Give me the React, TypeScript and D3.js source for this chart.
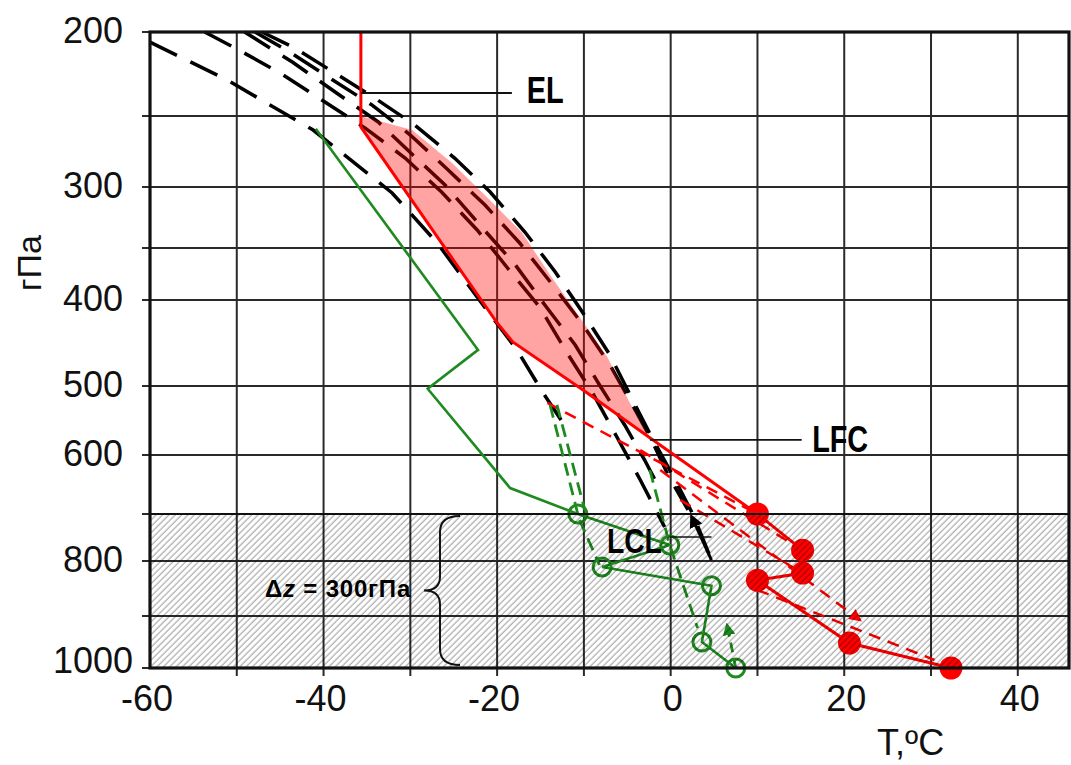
import React from 'react';
import * as d3 from 'd3';

const W = 1071;
const H = 765;

// ---- axes ----
const T_DOMAIN = [-60, 45.9];
const T_GRID = [-50, -40, -30, -20, -10, 0, 10, 20, 30, 40];
const T_TICKS = [-60, -40, -20, 0, 20, 40];
const P_LEVELS = [200, 250, 300, 350, 400, 500, 600, 700, 800, 900, 1000];
const P_GRID = [250, 300, 350, 400, 500, 600, 700, 800, 900];
const P_TICKS = [200, 300, 400, 500, 600, 800, 1000];

// ---- environment temperature (red) ----
const envT = [-35.7, -35.7, -20.0, -18.2, -10.1, -2.4, 10.0, 15.2, 15.2, 10.0, 20.6, 32.3];
const envP = [200, 257.7, 426.7, 448.8, 505.8, 575, 700, 777, 822, 835, 952, 1000];

// ---- dew point (green) ----
const dewT = [-40.9, -22.2, -28.0, -18.5, -10.7, -0.1, -7.9, 4.7, 3.6, 7.5];
const dewP = [259, 458, 504, 656, 700, 766, 811, 845, 950, 1000];

// ---- parcel curve bounding the positive area ----
const parcelT = [-35.7, -29.8, -25.2, -21.2, -17.1, -13.9, -10.5, -7.3, -4.7, -2.4];
const parcelP = [250, 259.9, 283.1, 308.2, 337.7, 376, 419.8, 466.3, 524.6, 575.4];

// ---- adiabats (black dashed) ----
const adiabat1T = [-60, -51.1, -41.2, -32.1, -26.9, -21.2, -17.7, -14.7, -12.4];
const adiabat1P = [206, 228.6, 259.9, 304.9, 345.9, 411.6, 458.1, 510.1, 553.6];
const adiabat2T = [-53.7, -50.2, -45.0, -40.2, -35.2, -30.6, -26.4, -22.3, -18.8, -15.1, -12.0, -9.0, -6.2, -3.5, -0.7];
const adiabat2P = [200, 209.5, 224.4, 240.5, 258.5, 279.6, 304.1, 335.2, 369.2, 408.1, 460.5, 510.1, 573.9, 642.4, 727.7];
const adiabat3T = [-49.1, -43.6, -38.5, -33.7, -29.7, -26.0, -22.0, -17.9, -14.5, -11.0, -8.2, -5.3, -3.0, -1.2];
const adiabat3P = [200, 217.9, 236.3, 254.2, 277.5, 298.6, 331.1, 366.3, 405.8, 452.3, 498.8, 556.5, 608.5, 659.3];
const adiabat4T = [-47.9, -43.9, -39.3, -34.4, -30.0, -25.7, -21.4, -17.4, -13.6, -10.1, -7.0, -4.4, -2.2, -0.3, 2.0];
const adiabat4P = [200, 211.9, 227.4, 243.5, 263.4, 287.7, 314.8, 345.9, 385.6, 429.1, 475.6, 527.5, 578.3, 633.9, 693.2];
const adiabat5T = [-47.1, -43.3, -38.9, -34.1, -29.5, -24.9, -20.8, -16.8, -13.3, -10.1, -7.0, -4.5, -2.2, 0.3, 2.6, 4.7];
const adiabat5P = [200, 209.5, 223.8, 239.3, 256.3, 279.6, 304.1, 336.9, 373.1, 415.1, 464, 517.4, 573.9, 636.4, 702.1, 797.9];

// ---- red dashed paths ----
const redGuide1: [number, number][] = [[-14.2, 524.6], [10, 700]];
const redGuide2: [number, number][] = [[-3.5, 592.8], [15.2, 777]];
const redGuide3: [number, number][] = [[-1.2, 625.4], [21.8, 907.7]];
const redGuide4: [number, number][] = [[1.1, 676.3], [15.2, 822]];
const redGuide5: [number, number][] = [[10.0, 852.7], [30.4, 984.6]];

// ---- green dashed paths ----
const greenGuide1: [number, number][] = [[-13.9, 527.5], [-10.7, 700]];
const greenGuide2: [number, number][] = [[-13.1, 527.5], [-9.9, 693]];
const greenGuide3: [number, number][] = [[-2.4, 625.4], [-0.1, 766], [3.1, 923]];
const greenGuide4: [number, number][] = [[-10.5, 712.8], [-8.2, 807.3]];
const greenArrow: [number, number][] = [[7.5, 1000], [6.5, 917.3]];

// ---- black solid arrow ----
const blackArrow: [number, number][] = [[4.7, 797.9], [2.4, 705]];

// ---- annotation levels ----
const EL_P = 236.3;
const LFC_P = 578;
const LCL_P = 749;
const LAYER_TOP = 700;
const LAYER_BOTTOM = 1000;

const FONT = 'Liberation Sans, Arial, sans-serif';

export default function App() {
  const x = d3.scaleLinear().domain(T_DOMAIN).range([150, 1069]);
  const y = d3
    .scaleLinear()
    .domain(P_LEVELS)
    .range([32, 116, 187, 248, 300, 386, 455, 514, 561, 616, 668]);

  const line = d3
    .line<[number, number]>()
    .x((d) => x(d[0]))
    .y((d) => y(d[1]));

  const zip = (a: number[], b: number[]) => a.map((v, i) => [v, b[i]] as [number, number]);

  const env = zip(envT, envP);
  const dew = zip(dewT, dewP);
  const parcel = zip(parcelT, parcelP);
  const adiabats = [
    zip(adiabat1T, adiabat1P),
    zip(adiabat2T, adiabat2P),
    zip(adiabat3T, adiabat3P),
    zip(adiabat4T, adiabat4P),
    zip(adiabat5T, adiabat5P),
  ];
  const capeEnv = env.filter((d) => d[1] >= 250 && d[1] <= 576).reverse();
  const capePoly = [...parcel, ...capeEnv];

  const left = x(T_DOMAIN[0]);
  const right = x(T_DOMAIN[1]);
  const top = y(200);
  const bottom = y(1000);

  const layerTop = y(LAYER_TOP);
  const layerBottom = y(LAYER_BOTTOM);
  const braceTop = layerTop + 2;
  const braceBot = layerBottom - 3;
  const braceMid = (braceTop + braceBot) / 2;
  const bx = 440;
  const bracePath = `M${bx + 20},${braceTop} Q${bx},${braceTop} ${bx},${braceTop + 16} L${bx},${braceMid - 14} Q${bx},${braceMid} ${bx - 16},${braceMid} Q${bx},${braceMid} ${bx},${braceMid + 14} L${bx},${braceBot - 16} Q${bx},${braceBot} ${bx + 20},${braceBot}`;

  const red = '#ff0000';
  const green = '#1f8a1f';

  return (
    <svg
      width={W}
      height={H}
      style={{ position: 'absolute', left: 0, top: 0, background: '#fff' }}
      fontFamily={FONT}
    >
      <defs>
        <pattern
          id="hatch"
          width={4.5}
          height={4.5}
          patternUnits="userSpaceOnUse"
          patternTransform="rotate(45)"
        >
          <line x1={2} y1={0} x2={2} y2={4.5} stroke="#000" strokeOpacity={0.4} strokeWidth={1} />
        </pattern>
        <marker id="arrRed" viewBox="0 0 10 10" refX={8} refY={5} markerWidth={5} markerHeight={5} orient="auto">
          <path d="M0,0 L10,5 L0,10 z" fill={red} />
        </marker>
        <marker id="arrGreen" viewBox="0 0 10 10" refX={8} refY={5} markerWidth={4.5} markerHeight={4.5} orient="auto">
          <path d="M0,0 L10,5 L0,10 z" fill={green} />
        </marker>
        <marker id="arrBlack" viewBox="0 0 10 10" refX={8} refY={5} markerWidth={4.5} markerHeight={4.5} orient="auto">
          <path d="M0,0 L10,5 L0,10 z" fill="#000" />
        </marker>
      </defs>

      <rect x={0} y={0} width={W} height={H} fill="#fff" />

      {/* grid */}
      {T_GRID.map((t) => (
        <line key={'vg' + t} x1={x(t)} x2={x(t)} y1={top} y2={bottom + 8} stroke="#2a2a2a" strokeWidth={2} />
      ))}
      {P_GRID.map((p) => (
        <line key={'hg' + p} x1={left - 8} x2={right} y1={y(p)} y2={y(p)} stroke="#2a2a2a" strokeWidth={2} />
      ))}
      <line x1={left - 8} x2={left} y1={top} y2={top} stroke="#2a2a2a" strokeWidth={2} />
      <line x1={left - 8} x2={left} y1={bottom} y2={bottom} stroke="#2a2a2a" strokeWidth={2} />

      {/* adiabats */}
      {adiabats.map((a, i) => (
        <path
          key={'ad' + i}
          d={line(a) || ''}
          fill="none"
          stroke="#000"
          strokeWidth={3.5}
          strokeDasharray="30 15"
        />
      ))}

      {/* positive area */}
      <path d={(line(capePoly) || '') + 'Z'} fill="rgba(255,0,0,0.36)" stroke="none" />

      {/* guide dashed lines */}
      {[redGuide1, redGuide2, redGuide4, redGuide5].map((g, i) => (
        <path key={'rg' + i} d={line(g) || ''} fill="none" stroke={red} strokeWidth={2.5} strokeDasharray="12 8" />
      ))}
      <path d={line(redGuide3) || ''} fill="none" stroke={red} strokeWidth={2.5} strokeDasharray="12 8" markerEnd="url(#arrRed)" />
      {[greenGuide1, greenGuide2, greenGuide3, greenGuide4].map((g, i) => (
        <path key={'gg' + i} d={line(g) || ''} fill="none" stroke={green} strokeWidth={2.8} strokeDasharray="13 7" />
      ))}
      <path d={line(greenArrow) || ''} fill="none" stroke={green} strokeWidth={2.8} strokeDasharray="10 6" markerEnd="url(#arrGreen)" />
      <path d={line(blackArrow) || ''} fill="none" stroke="#000" strokeWidth={3} markerEnd="url(#arrBlack)" />

      {/* dew point */}
      <path d={line(dew) || ''} fill="none" stroke={green} strokeWidth={2.6} />
      {dew
        .filter((d) => d[1] >= LAYER_TOP)
        .map((d, i) => (
          <circle key={'dc' + i} cx={x(d[0])} cy={y(d[1])} r={9} fill="none" stroke={green} strokeWidth={3} />
        ))}

      {/* environment temperature */}
      <path d={line(env) || ''} fill="none" stroke={red} strokeWidth={3} />
      {env
        .filter((d) => d[1] >= LAYER_TOP)
        .map((d, i) => (
          <circle key={'ec' + i} cx={x(d[0])} cy={y(d[1])} r={11.5} fill={red} />
        ))}

      {/* hatched surface layer */}
      <rect x={left} y={layerTop} width={right - left} height={layerBottom - layerTop} fill="url(#hatch)" />
      <line x1={left} x2={right} y1={layerTop} y2={layerTop} stroke="#111" strokeWidth={2.2} />

      {/* frame */}
      <rect x={left} y={top} width={right - left} height={bottom - top} fill="none" stroke="#111" strokeWidth={3.2} />

      {/* annotations */}
      <line x1={x(envT[0])} x2={x(-18.3)} y1={y(EL_P)} y2={y(EL_P)} stroke="#111" strokeWidth={1.8} />
      <text x={x(-16.6)} y={y(EL_P) + 10} fontSize={37} fontWeight="bold" textLength={37} lengthAdjust="spacingAndGlyphs">
        EL
      </text>
      <line x1={x(-2.4)} x2={x(15.1)} y1={y(LFC_P)} y2={y(LFC_P)} stroke="#111" strokeWidth={1.8} />
      <text x={x(16.3)} y={y(LFC_P) + 12} fontSize={37} fontWeight="bold" textLength={56} lengthAdjust="spacingAndGlyphs">
        LFC
      </text>
      <line x1={x(-0.1)} x2={x(4.7)} y1={y(LCL_P)} y2={y(LCL_P)} stroke="#111" strokeWidth={1.5} />
      <text x={x(-7.35)} y={y(LCL_P) + 16} fontSize={35} fontWeight="bold" textLength={55} lengthAdjust="spacingAndGlyphs">
        LCL
      </text>

      <path d={bracePath} fill="none" stroke="#111" strokeWidth={2} />
      <text x={265} y={braceMid + 6} fontSize={24} fontWeight="bold" letterSpacing={0.8}>
        Δ<tspan fontStyle="italic">z</tspan> = 300гПа
      </text>

      {/* axis labels */}
      {P_TICKS.map((p) => (
        <text
          key={'pl' + p}
          x={123 + (String(p).length > 3 ? 10 : 0)}
          y={Math.min(Math.max(y(p) + 11, 38), 673)}
          fontSize={36}
          textAnchor="end"
          fill="#111"
        >
          {p}
        </text>
      ))}
      {T_TICKS.map((t) => (
        <text
          key={'tl' + t}
          x={x(t) - (t < 0 ? 5 : 0) + 2}
          y={711}
          fontSize={36}
          textAnchor="middle"
          fill="#111"
        >
          {t}
        </text>
      ))}
      <text x={877} y={755} fontSize={36} fill="#111">
        T,ºC
      </text>
      <text transform="translate(41,263) rotate(-90)" fontSize={34} textAnchor="middle" fill="#111">
        гПа
      </text>
    </svg>
  );
}
